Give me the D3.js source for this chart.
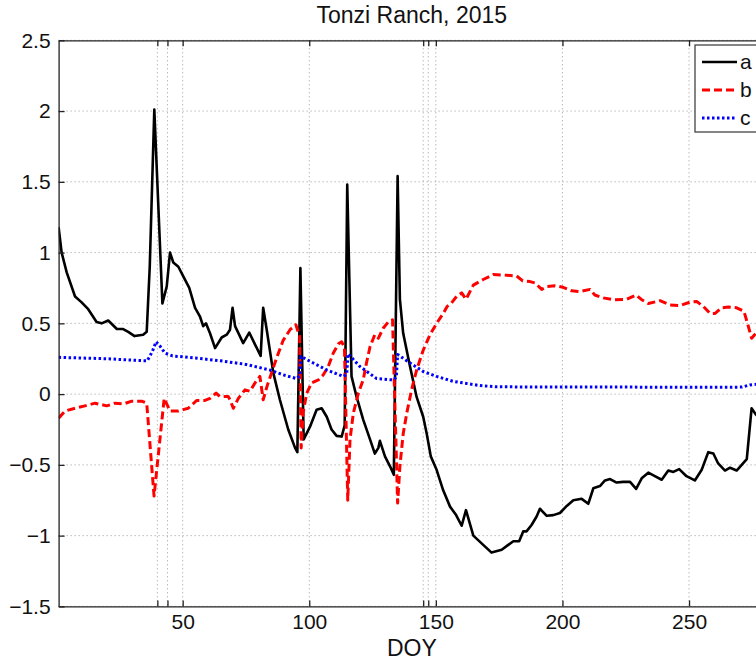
<!DOCTYPE html>
<html>
<head>
<meta charset="utf-8">
<script src="https://cdn.jsdelivr.net/npm/d3@7"></script>
<style>
  body { margin: 0; overflow: hidden; background: #fff; }
  text { font-family: "Liberation Sans", Arial, sans-serif; }
</style>
</head>
<body>
<div id="chart"></div>
<script>
// series a (black, solid)
var aDoy = [1, 2.2, 4.2, 7.5, 10, 12.7, 16, 18, 20.6, 24, 26.5, 28.5, 31, 34.4, 35.8, 37, 38.8, 42, 43.7, 45, 46.3, 48.3, 50.3, 52.6, 54.9, 56.8, 58.1, 59.2, 60.8, 62.8, 65.4, 67.4, 68.7, 69.7, 70.7, 73.9, 76.3, 78.6, 80.8, 81.8, 83.2, 85.8, 88.4, 91.7, 94.4, 95.3, 96.5, 97.8, 100.3, 102.9, 104.9, 106.9, 108.8, 110.8, 112.8, 114, 115, 116.7, 118.7, 121.3, 124, 125.9, 127.3, 127.9, 129.9, 131.9, 133.4, 134.9, 135.8, 137.1, 139.8, 142.4, 145, 146.4, 148, 150.3, 152.9, 155.6, 158, 160.2, 161.9, 164.8, 168.7, 172, 176, 178.6, 180.6, 182.9, 184.5, 185.8, 187.8, 189.8, 191.1, 193.8, 196.4, 199, 201.7, 204.3, 207.6, 210.2, 212.2, 214.8, 216.8, 218.8, 221.4, 224, 226.7, 229.1, 231.3, 233.9, 236.5, 239.2, 241.8, 243.8, 246.1, 249, 252.3, 255, 257.6, 259.6, 261.5, 264.2, 266.2, 268.8, 270.8, 272.8, 274.7, 276.4, 278, 280];
var aVal = [1.18, 1.0, 0.86, 0.69, 0.65, 0.60, 0.51, 0.50, 0.52, 0.46, 0.46, 0.44, 0.41, 0.42, 0.44, 0.9, 2.01, 0.64, 0.76, 1.0, 0.93, 0.90, 0.83, 0.75, 0.61, 0.55, 0.48, 0.50, 0.43, 0.325, 0.40, 0.42, 0.455, 0.61, 0.48, 0.36, 0.435, 0.35, 0.27, 0.61, 0.455, 0.15, -0.04, -0.25, -0.38, -0.41, 0.89, -0.32, -0.23, -0.11, -0.10, -0.16, -0.25, -0.295, -0.30, -0.22, 1.48, 0.125, -0.02, -0.18, -0.32, -0.42, -0.38, -0.33, -0.44, -0.51, -0.57, 1.54, 0.67, 0.43, 0.195, -0.02, -0.16, -0.28, -0.44, -0.535, -0.68, -0.795, -0.855, -0.93, -0.82, -1.0, -1.065, -1.12, -1.10, -1.065, -1.04, -1.04, -0.97, -0.97, -0.925, -0.865, -0.81, -0.86, -0.855, -0.84, -0.79, -0.75, -0.74, -0.775, -0.665, -0.65, -0.61, -0.60, -0.625, -0.62, -0.62, -0.67, -0.595, -0.555, -0.58, -0.605, -0.54, -0.55, -0.53, -0.58, -0.61, -0.535, -0.41, -0.42, -0.49, -0.54, -0.52, -0.54, -0.50, -0.46, -0.10, -0.145, -0.17, -0.2];

// series b (red, dashed)
var bDoy = [1, 3.5, 7.5, 11.4, 15.4, 20, 23.3, 26.5, 29.9, 33.8, 35.8, 38.7, 42.7, 45, 48.3, 50.2, 52.2, 55.5, 58.8, 60.8, 63.2, 64.7, 68, 68.7, 70, 72, 74.6, 76.6, 78.6, 80.5, 81.8, 83.4, 85.1, 87.1, 89.7, 92.4, 94.7, 96.2, 96.8, 97.6, 99, 100.9, 103.6, 105.5, 107.5, 109.5, 111.5, 112.8, 113.9, 115.2, 116.1, 117.4, 119.4, 121.3, 122.6, 124, 125.9, 127.3, 129.2, 131.2, 132.9, 134.9, 135.8, 137.1, 138.5, 140.4, 142.4, 145, 147.7, 150.3, 152.9, 154.5, 156.2, 158.2, 160.2, 161.9, 164.8, 168.7, 172.7, 178, 181.9, 184.3, 187.2, 189.2, 191.8, 193.8, 197, 200.3, 203.6, 206.9, 210.9, 212.8, 216.1, 220.1, 225.4, 229.1, 231.3, 233.9, 238.5, 242.5, 246.4, 250.4, 253, 255.6, 258.3, 260.3, 262.9, 265.5, 268.8, 271.7, 273.4, 274.7, 276.4, 278, 280];
var bVal = [-0.17, -0.12, -0.10, -0.083, -0.064, -0.083, -0.064, -0.07, -0.05, -0.05, -0.064, -0.72, -0.03, -0.12, -0.12, -0.11, -0.10, -0.045, -0.045, -0.03, 0.007, -0.017, -0.017, -0.04, -0.10, -0.03, 0.03, 0.02, 0.08, 0.125, -0.04, 0.06, 0.15, 0.255, 0.38, 0.455, 0.49, 0.41, -0.38, -0.13, 0.007, 0.08, 0.10, 0.135, 0.195, 0.29, 0.355, 0.37, 0.33, -0.75, -0.32, -0.135, 0.007, 0.10, 0.22, 0.335, 0.42, 0.395, 0.465, 0.51, 0.525, -0.77, -0.51, -0.28, -0.135, 0.03, 0.17, 0.31, 0.42, 0.50, 0.57, 0.62, 0.645, 0.69, 0.715, 0.67, 0.77, 0.81, 0.845, 0.84, 0.835, 0.80, 0.795, 0.785, 0.74, 0.76, 0.765, 0.755, 0.73, 0.725, 0.74, 0.70, 0.68, 0.667, 0.67, 0.70, 0.667, 0.64, 0.66, 0.63, 0.625, 0.65, 0.655, 0.62, 0.57, 0.57, 0.61, 0.615, 0.61, 0.585, 0.48, 0.395, 0.43, 0.42, 0.41];

// series c (blue, dotted)
var cDoy = [1, 10, 20, 30, 36, 38, 39.5, 41, 43, 46, 55, 65, 75, 84.5, 89.7, 95, 96.3, 96.7, 101.6, 107, 113.5, 114.8, 115.3, 120, 126.6, 133.2, 134.4, 134.9, 139.8, 145, 150.3, 156.9, 162.2, 167.4, 174, 190, 220, 250, 265, 271, 274, 280];
var cVal = [0.26, 0.255, 0.25, 0.24, 0.235, 0.30, 0.37, 0.34, 0.29, 0.27, 0.255, 0.235, 0.21, 0.17, 0.136, 0.11, 0.13, 0.266, 0.22, 0.17, 0.125, 0.14, 0.285, 0.195, 0.11, 0.10, 0.12, 0.28, 0.22, 0.16, 0.125, 0.09, 0.075, 0.06, 0.052, 0.05, 0.05, 0.048, 0.048, 0.05, 0.065, 0.075];

var xTicks = [40, 44, 50, 100, 145, 147, 150, 200, 250];
var xLabels = [50, 100, 150, 200, 250];
var yTicks = [-1.5, -1, -0.5, 0, 0.5, 1, 1.5, 2, 2.5];
var seriesNames = ["a", "b", "c"];

var w = 756, h = 661;
// plot box (right edge sits just past the window, as in the reference)
var pLeft = 58.6, pRight = 765, pTop = 40.3, pBottom = 606.4;

var svg = d3.select("#chart").append("svg")
  .attr("width", w)
  .attr("height", h);

var x = d3.scaleLinear().domain([1, 280]).range([pLeft, pRight]);
var y = d3.scaleLinear().domain([-1.5, 2.5]).range([pBottom, pTop]);

// grid
svg.append("g").selectAll("line")
  .data(xTicks).enter().append("line")
    .attr("x1", d => x(d)).attr("x2", d => x(d))
    .attr("y1", pTop).attr("y2", pBottom)
    .attr("stroke", "#999").attr("stroke-width", 1)
    .attr("stroke-dasharray", "1,3");
svg.append("g").selectAll("line")
  .data(yTicks).enter().append("line")
    .attr("x1", pLeft).attr("x2", pRight)
    .attr("y1", d => y(d)).attr("y2", d => y(d))
    .attr("stroke", "#999").attr("stroke-width", 1)
    .attr("stroke-dasharray", "1,3");

// series lines
var line = d3.line().x(d => x(d[0])).y(d => y(d[1]));
var series = [
  { pts: d3.zip(aDoy, aVal), color: "#000", dash: null, width: 2.6 },
  { pts: d3.zip(bDoy, bVal), color: "#ff0000", dash: "8,4", width: 3 },
  { pts: d3.zip(cDoy, cVal), color: "#0000ff", dash: "2.5,2.5", width: 3 }
];

svg.append("defs").append("clipPath").attr("id", "plotclip")
  .append("rect").attr("x", pLeft).attr("y", pTop)
  .attr("width", pRight - pLeft).attr("height", pBottom - pTop);

var plot = svg.append("g").attr("clip-path", "url(#plotclip)");
series.forEach(function(s) {
  plot.append("path")
    .datum(s.pts)
    .attr("d", line)
    .attr("fill", "none")
    .attr("stroke", s.color)
    .attr("stroke-width", s.width)
    .attr("stroke-linejoin", "round")
    .attr("stroke-dasharray", s.dash);
});

// axes, ticks pointing inward
var xAxis = d3.axisBottom(x).tickValues(xTicks).tickSizeInner(-6).tickSizeOuter(0)
  .tickFormat(d => xLabels.indexOf(d) >= 0 ? d : "");
var xAxisTop = d3.axisTop(x).tickValues(xTicks).tickSizeInner(-6).tickSizeOuter(0).tickFormat("");
var yAxis = d3.axisLeft(y).tickValues(yTicks).tickSizeInner(-6).tickSizeOuter(0)
  .tickFormat(d3.format("~g"));
var yAxisRight = d3.axisRight(y).tickValues(yTicks).tickSizeInner(-6).tickSizeOuter(0).tickFormat("");

var gx = svg.append("g").attr("transform", "translate(0," + pBottom + ")").call(xAxis);
var gxt = svg.append("g").attr("transform", "translate(0," + pTop + ")").call(xAxisTop);
var gy = svg.append("g").attr("transform", "translate(" + pLeft + ",0)").call(yAxis);
var gyr = svg.append("g").attr("transform", "translate(" + pRight + ",0)").call(yAxisRight);

[gx, gxt, gy, gyr].forEach(function(g) {
  g.selectAll(".domain").attr("stroke", "#222").attr("stroke-width", 1.3);
  g.selectAll(".tick line").attr("stroke", "#222").attr("stroke-width", 1.3);
});
gx.selectAll("text").attr("font-size", 21).attr("fill", "#111").attr("y", 3).attr("dy", "0.95em");
gy.selectAll("text").attr("font-size", 21).attr("fill", "#111").attr("x", -8);

// labels
svg.append("text")
  .attr("x", (pLeft + pRight) / 2).attr("y", 656)
  .attr("text-anchor", "middle").attr("font-size", 23).attr("fill", "#111")
  .text("DOY");
svg.append("text")
  .attr("x", (pLeft + pRight) / 2).attr("y", 23)
  .attr("text-anchor", "middle").attr("font-size", 23).attr("fill", "#111")
  .text("Tonzi Ranch, 2015");

// legend
var lg = svg.append("g").attr("transform", "translate(695,45)");
lg.append("rect").attr("x", 0).attr("y", 0).attr("width", 66).attr("height", 87)
  .attr("fill", "#fff").attr("stroke", "#444").attr("stroke-width", 1.3);
var entries = lg.selectAll(".entry").data(series).enter().append("g")
  .attr("transform", (d, i) => "translate(0," + (17 + i * 28) + ")");
entries.append("line")
  .attr("x1", 7).attr("x2", 42).attr("y1", 0).attr("y2", 0)
  .attr("stroke", d => d.color).attr("stroke-width", d => d.width)
  .attr("stroke-dasharray", d => d.dash);
entries.append("text")
  .attr("x", 45).attr("y", 7).attr("font-size", 21).attr("fill", "#111")
  .text((d, i) => seriesNames[i]);
</script>
</body>
</html>
